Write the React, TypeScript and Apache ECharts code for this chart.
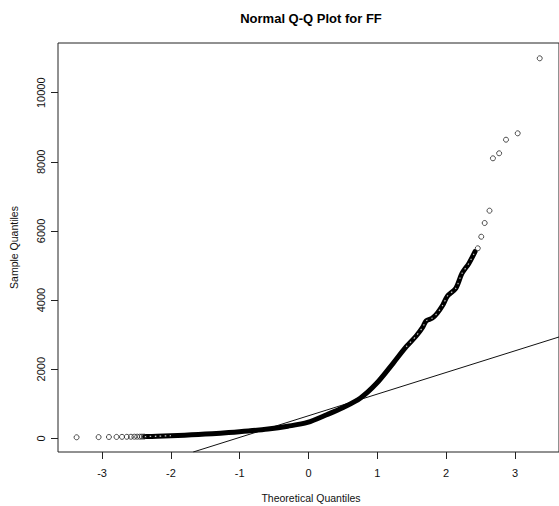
import React, { useEffect, useRef } from 'react';
import * as echarts from 'echarts';

const titleText = 'Normal Q-Q Plot for FF';
const xAxisTitle = 'Theoretical Quantiles';
const yAxisTitle = 'Sample Quantiles';
const xTicks = [-3, -2, -1, 0, 1, 2, 3];
const yTicks = [0, 2000, 4000, 6000, 8000, 10000];

// individually visible points in the lower tail
const lowTailX = [-3.37, -3.05, -2.9, -2.79, -2.71, -2.64, -2.58, -2.53, -2.49, -2.45, -2.42, -2.39];
const lowTailY = [30, 35, 38, 40, 42, 44, 45, 46, 47, 48, 49, 50];

// dense body of the sample (drawn as a thick band)
const bandX = [-2.38, -2.2, -2.0, -1.8, -1.6, -1.4, -1.16, -0.875, -0.588, -0.301, -0.014, 0.273, 0.512, 0.751, 0.99, 1.229, 1.42, 1.564, 1.66, 1.71, 1.8, 1.87, 1.95, 2.02, 2.14, 2.23, 2.33, 2.42];
const bandY = [50, 60, 75, 92, 112, 135, 165, 210, 268, 350, 460, 690, 900, 1160, 1591, 2170, 2650, 2960, 3220, 3400, 3480, 3620, 3850, 4120, 4340, 4770, 5060, 5400];

// individually visible points in the upper tail
const highTailX = [2.46, 2.51, 2.56, 2.63, 2.68, 2.77, 2.87, 3.04, 3.36];
const highTailY = [5498, 5833, 6230, 6586, 8102, 8247, 8640, 8825, 10995];

// reference (qq) line end points
const qqLineX = [-1.675, 3.64];
const qqLineY = [-396, 2932];

// parts of the band where single open circles are still discernible
const lowChainEnd = 3; // bandX[0..2]
const highChainStart = 16; // bandX[16..]

const FONT = 'Liberation Sans, Arial, sans-serif';

export default function App() {
  const ref = useRef<HTMLDivElement>(null);
  useEffect(() => {
    if (!ref.current) return;
    const chart = echarts.init(ref.current, null, { renderer: 'svg' });
    const circleStyle = {
      color: 'rgba(0,0,0,0)',
      borderColor: '#222',
      borderWidth: 1,
    };
    const bandPts = bandX.map((x, i) => [x, bandY[i]]);
    chart.setOption({
      animation: false,
      backgroundColor: '#fff',
      grid: {
        left: 58,
        top: 43,
        width: 507,
        height: 409,
        show: true,
        borderColor: '#222',
        borderWidth: 1,
        backgroundColor: 'transparent',
      },
      xAxis: {
        type: 'value',
        min: -3.64,
        max: 3.64,
        position: 'bottom',
        splitLine: { show: false },
        axisLine: { show: false, onZero: false },
        axisTick: { show: true, length: 7, inside: false, customValues: xTicks, lineStyle: { color: '#222', width: 1 } },
        axisLabel: { show: true, customValues: xTicks, margin: 15, fontSize: 11, fontFamily: FONT, color: '#111', formatter: (v: number) => String(v) },
      },
      yAxis: {
        type: 'value',
        min: -396,
        max: 11438,
        position: 'left',
        splitLine: { show: false },
        axisLine: { show: false, onZero: false },
        axisTick: { show: true, length: 7, inside: false, customValues: yTicks, lineStyle: { color: '#222', width: 1 } },
        axisLabel: { show: true, customValues: yTicks, rotate: 90, margin: 12, fontSize: 11, fontFamily: FONT, color: '#111', formatter: (v: number) => String(v) },
      },
      graphic: [
        {
          type: 'text',
          x: 311,
          y: 18,
          style: { text: titleText, textAlign: 'center', textVerticalAlign: 'middle', font: `bold 13px ${FONT}`, fill: '#000' },
        },
        {
          type: 'text',
          x: 311,
          y: 498,
          style: { text: xAxisTitle, textAlign: 'center', textVerticalAlign: 'middle', font: `10.5px ${FONT}`, fill: '#111' },
        },
        {
          type: 'text',
          x: 14,
          y: 247.5,
          rotation: Math.PI / 2,
          style: { text: yAxisTitle, textAlign: 'center', textVerticalAlign: 'middle', font: `10.5px ${FONT}`, fill: '#111' },
        },
      ],
      series: [
        {
          type: 'line',
          data: qqLineX.map((x, i) => [x, qqLineY[i]]),
          showSymbol: false,
          symbol: 'none',
          clip: true,
          lineStyle: { color: '#111', width: 1 },
          z: 2,
        },
        {
          type: 'line',
          data: bandPts,
          showSymbol: false,
          symbol: 'none',
          smooth: 0.3,
          clip: true,
          lineStyle: { color: '#000', width: 5, cap: 'round', join: 'round' },
          z: 3,
        },
        {
          type: 'line',
          data: bandPts.slice(0, lowChainEnd),
          showSymbol: false,
          symbol: 'none',
          smooth: 0.3,
          clip: true,
          lineStyle: { color: '#fff', width: 1.3, type: [1.5, 3.5], opacity: 0.8 },
          z: 4,
        },
        {
          type: 'line',
          data: bandPts.slice(highChainStart),
          showSymbol: false,
          symbol: 'none',
          smooth: 0.3,
          clip: true,
          lineStyle: { color: '#fff', width: 1.2, type: [1.5, 4], opacity: 0.75 },
          z: 4,
        },
        {
          type: 'scatter',
          data: lowTailX.map((x, i) => [x, lowTailY[i]]),
          symbol: 'circle',
          symbolSize: 5,
          itemStyle: circleStyle,
          z: 5,
        },
        {
          type: 'scatter',
          data: highTailX.map((x, i) => [x, highTailY[i]]),
          symbol: 'circle',
          symbolSize: 5,
          itemStyle: circleStyle,
          z: 5,
        },
      ],
    });
    return () => chart.dispose();
  }, []);
  return (
    <div
      ref={ref}
      style={{ position: 'fixed', left: 0, top: 0, width: 559, height: 506, background: '#fff' }}
    />
  );
}
